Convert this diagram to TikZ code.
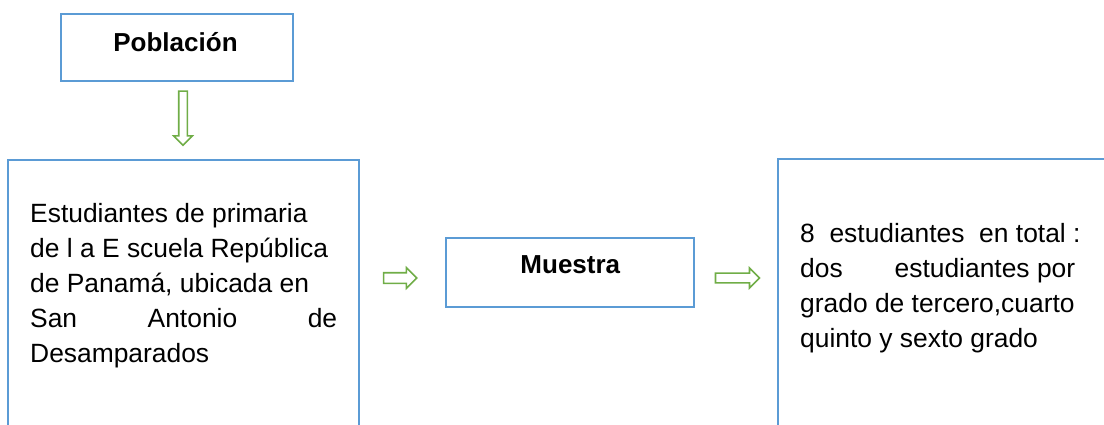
\documentclass[tikz,border=0pt]{standalone}
\usepackage{fontspec}
\setmainfont{Liberation Sans}
\usetikzlibrary{shapes.arrows}
\definecolor{boxblue}{HTML}{5B9BD5}
\definecolor{arrowgreen}{HTML}{70AD47}
\begin{document}
\begin{tikzpicture}[x=1pt,y=-1pt,
  blockbox/.style={draw=boxblue,line width=1.8pt,rectangle,inner sep=0pt},
  blockarrow/.style={single arrow,draw=arrowgreen,fill=white,line width=1.6pt,
    inner xsep=0pt,single arrow head indent=0pt,single arrow head extend=5pt},
  titletext/.style={font=\fontsize{26}{31}\selectfont\bfseries,inner sep=0pt,anchor=base},
  bodytext/.style={font=\fontsize{26.4}{35.2}\selectfont,inner sep=0pt,anchor=base west,align=left}]
\useasboundingbox (0,0) rectangle (1104,425);
\clip (0,0) rectangle (1104,425);
% boxes
\node[blockbox,minimum width=232pt,minimum height=67pt] (poblacion) at (177,47.5) {};
\node[titletext] (poblaciontext) at (175.5,52) {Población};
\node[blockbox,minimum width=351pt,minimum height=300pt] (estudiantes) at (183.5,310) {};
\node[blockbox,minimum width=248pt,minimum height=69pt] (muestra) at (570,272.5) {};
\node[titletext] (muestratext) at (570.3,273) {Muestra};
\node[blockbox,minimum width=362pt,minimum height=301pt] (total) at (959,309.5) {};
% texts (anchored at the baseline of the last line)
\node[bodytext] (estudiantestext) at (30,362.8) {Estudiantes de primaria\\de l a E scuela República\\de Panamá, ubicada en\\\makebox[307pt][s]{San Antonio de}\\Desamparados};
\node[bodytext] (totaltext) at (800,347.6) {8\ \ estudiantes\ \ en total :\\\makebox[275pt]{dos\hfill estudiantes por}\\grado de tercero,cuarto\\quinto y sexto grado};
% block arrows
\node[blockarrow,rotate=-90,inner ysep=3.5pt,minimum width=18pt,minimum height=54pt] (arrowdown) at (183,116) {};
\node[blockarrow,inner ysep=4.5pt,minimum width=19pt,minimum height=33pt] (arrowone) at (397.5,278) {};
\node[blockarrow,inner ysep=4pt,minimum width=20pt,minimum height=44pt] (arrowtwo) at (735,278) {};
\end{tikzpicture}
\end{document}
